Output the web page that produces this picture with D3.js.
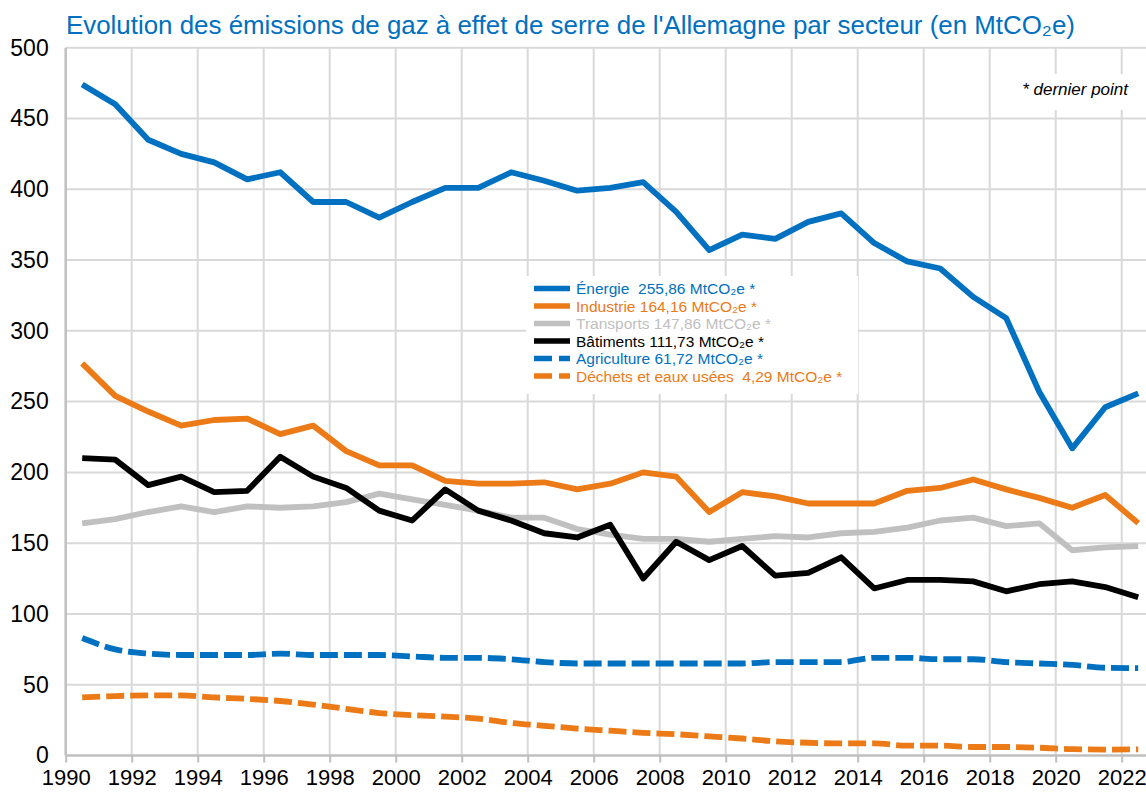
<!DOCTYPE html>
<html lang="fr">
<head>
<meta charset="utf-8">
<script src="https://cdn.jsdelivr.net/npm/d3@7"></script>
<style>
  html, body { margin: 0; padding: 0; background: #fff; }
  svg { display: block; font-family: "Liberation Sans", Arial, sans-serif; }
  text { white-space: pre; }
</style>
</head>
<body>
<svg id="chart" width="1146" height="793"></svg>
<script>
// Émissions de gaz à effet de serre de l'Allemagne par secteur, 1990-2022 (MtCO2e)
const years = [1990,1991,1992,1993,1994,1995,1996,1997,1998,1999,2000,2001,2002,2003,2004,2005,2006,2007,2008,2009,2010,2011,2012,2013,2014,2015,2016,2017,2018,2019,2020,2021,2022];

const energie     = [474,460,435,425,419,407,412,391,391,380,391,401,401,412,406,399,401,405,384,357,368,365,377,383,362,349,344,324,309,257,217,246,255.86];
const industrie   = [277,254,243,233,237,238,227,233,215,205,205,194,192,192,193,188,192,200,197,172,186,183,178,178,178,187,189,195,188,182,175,184,164.16];
const transports  = [164,167,172,176,172,176,175,176,179,185,181,177,173,168,168,160,156,153,153,151,153,155,154,157,158,161,166,168,162,164,145,147,147.86];
const batiments   = [210,209,191,197,186,187,211,197,189,173,166,188,173,166,157,154,163,125,151,138,148,127,129,140,118,124,124,123,116,121,123,119,111.73];
const agriculture = [83,75,72,71,71,71,72,71,71,71,70,69,69,68,66,65,65,65,65,65,65,66,66,66,69,69,68,68,66,65,64,62,61.72];
const dechets     = [41,42,42.5,42.5,41,40,38.5,36,33,30,28.5,27.5,26,23,21,19,17.5,16,15,13.5,12,10,9,8.5,8.5,7,7,6,6,5.5,4.5,4.2,4.29];

const seriesNames  = ["Énergie  255,86 MtCO₂e *", "Industrie 164,16 MtCO₂e *", "Transports 147,86 MtCO₂e *", "Bâtiments 111,73 MtCO₂e *", "Agriculture 61,72 MtCO₂e *", "Déchets et eaux usées  4,29 MtCO₂e *"];
const seriesValues = [energie, industrie, transports, batiments, agriculture, dechets];

const yTicks = [0,50,100,150,200,250,300,350,400,450,500];
const xTicks = [1990,1992,1994,1996,1998,2000,2002,2004,2006,2008,2010,2012,2014,2016,2018,2020,2022];

const titleText = "Evolution des émissions de gaz à effet de serre de l'Allemagne par secteur (en MtCO₂e)";
const noteText = "* dernier point";

// styling per series
const styles = [
  { color: "#0070C0", dash: null, smooth: false },
  { color: "#EB7A17", dash: null, smooth: false },
  { color: "#C0C0C0", dash: null, smooth: false },
  { color: "#000000", dash: null, smooth: false },
  { color: "#0070C0", dash: "18,6", smooth: true },
  { color: "#EB7A17", dash: "18,6", smooth: true }
];

const svg = d3.select("#chart");
const W = 1146, H = 793;

const x = d3.scaleLinear().domain([1990, 2023]).range([65.7, 1154.7]);
const y = d3.scaleLinear().domain([0, 500]).range([755.5, 47.7]);

// grid
const grid = svg.append("g");
grid.selectAll("line.h").data(yTicks.filter(d => d > 0)).join("line")
  .attr("x1", x(1990)).attr("x2", W)
  .attr("y1", d => y(d)).attr("y2", d => y(d))
  .attr("stroke", "#D9D9D9").attr("stroke-width", 2);
grid.selectAll("line.v").data(xTicks.filter(d => d > 1990)).join("line")
  .attr("x1", d => x(d)).attr("x2", d => x(d))
  .attr("y1", y(500)).attr("y2", y(0))
  .attr("stroke", "#D9D9D9").attr("stroke-width", 2);

// axes
const xAxis = svg.append("g").attr("transform", `translate(0,${y(0)})`)
  .call(d3.axisBottom(x).tickValues(xTicks).tickFormat(d3.format("d")).tickSize(7).tickPadding(7));
const yAxis = svg.append("g").attr("transform", `translate(${x(1990)},0)`)
  .call(d3.axisLeft(y).tickValues(yTicks).tickSize(0).tickPadding(17));
[xAxis, yAxis].forEach(a => {
  a.select(".domain").attr("stroke", "#BFBFBF").attr("stroke-width", 2.5);
  a.selectAll(".tick line").attr("stroke", "#BFBFBF").attr("stroke-width", 2);
  a.selectAll(".tick text").attr("fill", "#000")
    .attr("font-family", "'Liberation Sans', Arial, sans-serif");
});
xAxis.selectAll(".tick text").attr("font-size", 22);
yAxis.selectAll(".tick text").attr("font-size", 23);
xAxis.select(".domain").attr("d", `M${x(1990)},0H${W}`);
yAxis.select(".domain").attr("d", `M0,${y(500)}V${y(0)}`);

// title
svg.append("text").attr("x", 66).attr("y", 34)
  .attr("fill", "#0070C0").attr("font-size", 25.9)
  .text(titleText);

// lines
const plot = svg.append("g");
seriesValues.forEach((vals, i) => {
  const st = styles[i];
  const line = d3.line()
    .x((d, j) => x(years[j] + 0.5))
    .y(d => y(d))
    .curve(st.smooth ? d3.curveMonotoneX : d3.curveLinear);
  plot.append("path").datum(vals)
    .attr("d", line)
    .attr("fill", "none")
    .attr("stroke", st.color)
    .attr("stroke-width", 5.8)
    .attr("stroke-linejoin", "round")
    .attr("stroke-dasharray", st.dash);
});

// legend
const lg = svg.append("g");
lg.append("rect").attr("x", 526).attr("y", 276).attr("width", 332).attr("height", 118).attr("fill", "#fff");
seriesNames.forEach((name, i) => {
  const st = styles[i];
  const cy = 288.5 + i * 17.5;
  lg.append("line").attr("x1", 534).attr("x2", 570).attr("y1", cy).attr("y2", cy)
    .attr("stroke", st.color).attr("stroke-width", 5.5)
    .attr("stroke-dasharray", st.dash ? "18,7" : null);
  lg.append("text").attr("x", 576).attr("y", cy).attr("dy", "0.36em")
    .attr("fill", st.color).attr("font-size", 15.5).text(name);
});

// note
svg.append("rect").attr("x", 1000).attr("y", 74).attr("width", 146).attr("height", 36).attr("fill", "#fff");
svg.append("text").attr("x", 1128).attr("y", 95).attr("text-anchor", "end")
  .attr("font-style", "italic").attr("font-size", 17).attr("fill", "#000").text(noteText);
</script>
</body>
</html>
